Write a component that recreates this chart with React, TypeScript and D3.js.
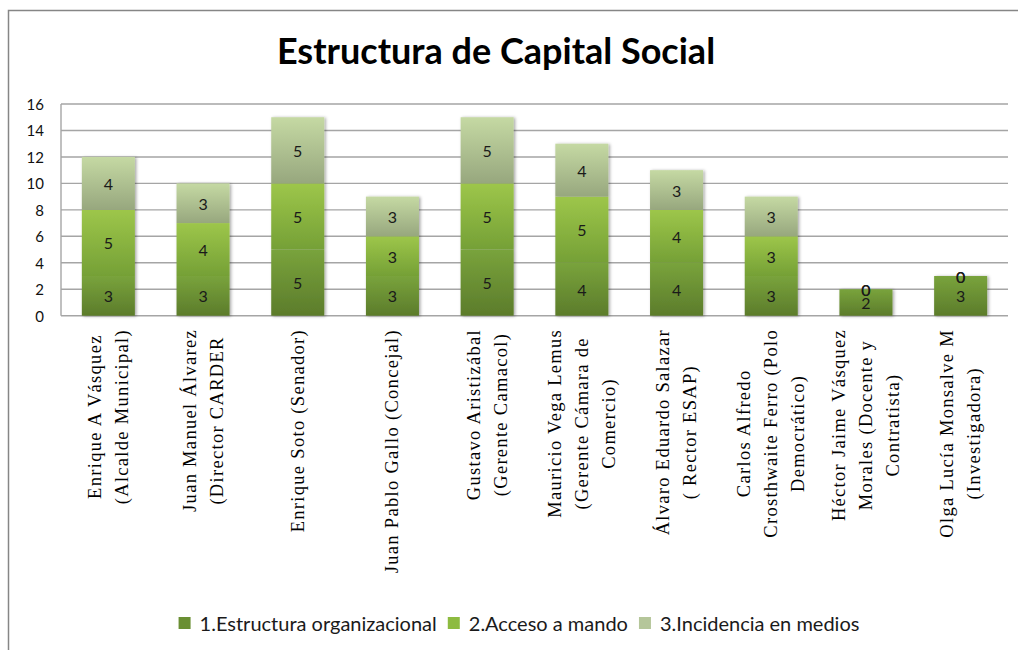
import React, { useEffect, useRef } from 'react'
import * as d3 from 'd3'

// etiquetas de categoría (cada línea va en un renglón)
const categories: string[][] = [
  ['Enrique A Vásquez', '(Alcalde Municipal)'],
  ['Juan Manuel Álvarez', '(Director CARDER'],
  ['Enrique Soto (Senador)'],
  ['Juan Pablo Gallo (Concejal)'],
  ['Gustavo Aristizábal', '(Gerente Camacol)'],
  ['Mauricio Vega Lemus', '(Gerente Cámara de', 'Comercio)'],
  ['Álvaro Eduardo Salazar', '( Rector ESAP)'],
  ['Carlos Alfredo', 'Crosthwaite Ferro (Polo', 'Democrático)'],
  ['Héctor Jaime Vásquez', 'Morales (Docente y', 'Contratista)'],
  ['Olga Lucía Monsalve M', '(Investigadora)']
]

const estructura = [3, 3, 5, 3, 5, 4, 4, 3, 2, 3]
const acceso = [5, 4, 5, 3, 5, 5, 4, 3, 0, 0]
const incidencia = [4, 3, 5, 3, 5, 4, 3, 3, 0, 0]

const seriesNames = ['1.Estructura organizacional', '2.Acceso a mando', '3.Incidencia en medios']
const yTicks = [0, 2, 4, 6, 8, 10, 12, 14, 16]

const W = 1018
const H = 650
const plot = { left: 61, right: 1008, top: 104, bottom: 315.7 }

const gradients = [
  { id: 'g1', top: '#79a33c', bottom: '#5c7c2b', legend: '#6a8f33' },
  { id: 'g2', top: '#9dc64a', bottom: '#75a036', legend: '#8dbb40' },
  { id: 'g3', top: '#c5d9a3', bottom: '#97a77e', legend: '#b5c69a' }
]

const sans = 'Lato, "Noto Sans", sans-serif'
const serif = '"Liberation Serif", "DejaVu Serif", serif'

function Chart () {
  const ref = useRef<SVGSVGElement>(null)

  useEffect(() => {
    const svg = d3.select(ref.current)
    svg.selectAll('*').remove()

    const rows = categories.map((c, i) => ({
      i,
      s0: estructura[i],
      s1: acceso[i],
      s2: incidencia[i]
    }))
    const keys = ['s0', 's1', 's2']
    const stacked = d3.stack<any>().keys(keys)(rows)

    const x = d3
      .scaleBand<number>()
      .domain(rows.map(r => r.i))
      .range([plot.left, plot.right])
      .paddingInner(0.44)
      .paddingOuter(0.22)

    const y = d3.scaleLinear().domain([0, 16]).range([plot.bottom, plot.top])

    const defs = svg.append('defs')
    gradients.forEach(g => {
      const lg = defs
        .append('linearGradient')
        .attr('id', g.id)
        .attr('x1', 0)
        .attr('y1', 0)
        .attr('x2', 0)
        .attr('y2', 1)
      lg.append('stop').attr('offset', '0%').attr('stop-color', g.top)
      lg.append('stop').attr('offset', '100%').attr('stop-color', g.bottom)
    })
    defs
      .append('filter')
      .attr('id', 'shadow')
      .attr('x', '-20%')
      .attr('y', '-20%')
      .attr('width', '140%')
      .attr('height', '140%')
      .append('feDropShadow')
      .attr('dx', 1.5)
      .attr('dy', 0.5)
      .attr('stdDeviation', 1.5)
      .attr('flood-color', '#000')
      .attr('flood-opacity', 0.35)

    // fondo y marco
    svg
      .append('rect')
      .attr('x', 8.5)
      .attr('y', 10.5)
      .attr('width', W)
      .attr('height', H)
      .attr('fill', '#fff')
      .attr('stroke', '#868686')
      .attr('stroke-width', 1.5)

    // título
    svg
      .append('text')
      .attr('x', 496)
      .attr('y', 64)
      .attr('text-anchor', 'middle')
      .attr('font-family', sans)
      .attr('font-weight', 'bold')
      .attr('font-size', 36)
      .attr('fill', '#000')
      .text('Estructura de Capital Social')

    // cuadrícula
    svg
      .append('g')
      .selectAll('line')
      .data(yTicks)
      .join('line')
      .attr('x1', plot.left)
      .attr('x2', plot.right)
      .attr('y1', d => y(d))
      .attr('y2', d => y(d))
      .attr('stroke', '#a5a5a5')
      .attr('stroke-width', 1.4)

    svg
      .append('line')
      .attr('x1', plot.left)
      .attr('x2', plot.left)
      .attr('y1', plot.top)
      .attr('y2', plot.bottom)
      .attr('stroke', '#a5a5a5')
      .attr('stroke-width', 1.4)

    // etiquetas eje Y
    svg
      .append('g')
      .selectAll('text')
      .data(yTicks)
      .join('text')
      .attr('x', 44)
      .attr('y', d => y(d))
      .attr('text-anchor', 'end')
      .attr('dominant-baseline', 'central')
      .attr('font-family', sans)
      .attr('font-size', 15)
      .attr('fill', '#111')
      .text(d => d)

    // barras
    const bars = svg.append('g').attr('filter', 'url(#shadow)')
    stacked.forEach((layer, k) => {
      bars
        .append('g')
        .selectAll('rect')
        .data(layer)
        .join('rect')
        .attr('x', (d: any) => x(d.data.i)!)
        .attr('width', x.bandwidth())
        .attr('y', d => y(d[1]))
        .attr('height', d => y(d[0]) - y(d[1]))
        .attr('fill', `url(#${gradients[k].id})`)
    })

    // valores
    stacked.forEach(layer => {
      svg
        .append('g')
        .selectAll('text')
        .data(layer)
        .join('text')
        .attr('x', (d: any) => x(d.data.i)! + x.bandwidth() / 2)
        .attr('y', d => y((d[0] + d[1]) / 2))
        .attr('text-anchor', 'middle')
        .attr('dominant-baseline', 'central')
        .attr('font-family', sans)
        .attr('font-size', 16)
        .attr('fill', '#1a1a1a')
        .text((d: any) => d[1] - d[0])
    })

    // etiquetas de categoría, rotadas
    const lh = 27
    const labelTop = 329
    categories.forEach((lines, i) => {
      const cx = x(i)! + x.bandwidth() / 2
      const g = svg.append('g')
      const texts = lines.map(l =>
        g
          .append('text')
          .attr('text-anchor', 'middle')
          .attr('dominant-baseline', 'central')
          .attr('font-family', serif)
          .attr('font-size', 18.5)
          .style('letter-spacing', '1.3px')
          .attr('fill', '#000')
          .text(l)
      )
      const maxLen = d3.max(texts, t => (t.node() as SVGTextElement).getComputedTextLength()) || 0
      texts.forEach((t, j) => {
        const lx = cx + (j - (lines.length - 1) / 2) * lh
        t.attr('transform', `translate(${lx},${labelTop + maxLen / 2}) rotate(-90)`)
      })
    })

    // leyenda
    const legend = svg.append('g')
    let lx = 0
    seriesNames.forEach((name, k) => {
      const item = legend.append('g').attr('transform', `translate(${lx},0)`)
      item
        .append('rect')
        .attr('x', 0)
        .attr('y', -6)
        .attr('width', 12)
        .attr('height', 12)
        .attr('fill', gradients[k].legend)
      const t = item
        .append('text')
        .attr('x', 21)
        .attr('y', 0)
        .attr('dominant-baseline', 'central')
        .attr('font-family', sans)
        .attr('font-size', 20)
        .attr('fill', '#1a1a1a')
        .text(name)
      lx += 21 + (t.node() as SVGTextElement).getComputedTextLength() + 11
    })
    const total = lx - 11
    legend.attr('transform', `translate(${519 - total / 2},623)`)
  }, [])

  return (
    <svg
      ref={ref}
      width={W}
      height={H}
      style={{ position: 'absolute', left: 0, top: 0 }}
    />
  )
}

export default function App () {
  return <Chart />
}
